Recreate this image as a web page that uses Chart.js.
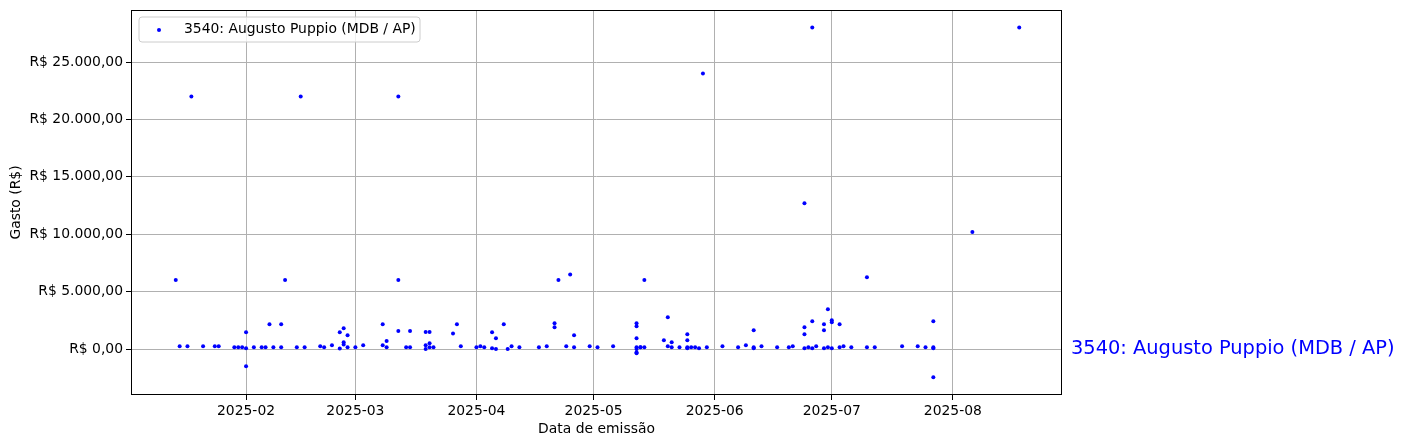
<!DOCTYPE html>
<html>
<head>
<meta charset="utf-8">
<script src="https://cdn.jsdelivr.net/npm/chart.js@4"></script>
<style>
	body { margin: 0; background: #ffffff; }
	#wrap { width: 1405px; height: 448px; position: relative; }
</style>
</head>
<body>
<div id="wrap"><canvas id="gastosChart"></canvas></div>
<script>
// Series label
const seriesName = '3540: Augusto Puppio (MDB / AP)';

// Emission dates and amounts
const emissionDates = [
	'2025-01-14', '2025-01-15', '2025-01-17', '2025-01-18', '2025-01-21', '2025-01-24', '2025-01-25',
	'2025-01-29', '2025-01-30', '2025-01-31',
	'2025-02-01', '2025-02-01', '2025-02-01', '2025-02-03', '2025-02-05', '2025-02-06', '2025-02-07',
	'2025-02-08', '2025-02-10', '2025-02-10', '2025-02-11', '2025-02-14', '2025-02-15', '2025-02-16',
	'2025-02-20', '2025-02-21', '2025-02-23', '2025-02-25', '2025-02-25', '2025-02-26', '2025-02-26',
	'2025-02-26', '2025-02-27', '2025-02-27', '2025-03-01',
	'2025-03-03', '2025-03-08', '2025-03-08', '2025-03-09', '2025-03-09', '2025-03-12', '2025-03-12',
	'2025-03-12', '2025-03-14', '2025-03-15', '2025-03-15', '2025-03-19', '2025-03-19', '2025-03-19',
	'2025-03-20', '2025-03-20', '2025-03-20', '2025-03-21', '2025-03-26', '2025-03-27', '2025-03-28',
	'2025-04-01', '2025-04-02', '2025-04-03', '2025-04-05', '2025-04-05', '2025-04-06', '2025-04-06',
	'2025-04-08', '2025-04-09', '2025-04-10', '2025-04-12', '2025-04-17', '2025-04-19', '2025-04-21',
	'2025-04-21', '2025-04-22', '2025-04-24', '2025-04-25', '2025-04-26', '2025-04-26', '2025-04-30',
	'2025-05-02', '2025-05-06', '2025-05-12', '2025-05-12', '2025-05-12', '2025-05-12', '2025-05-12',
	'2025-05-12', '2025-05-12', '2025-05-13', '2025-05-13', '2025-05-14', '2025-05-14', '2025-05-19',
	'2025-05-20', '2025-05-20', '2025-05-21', '2025-05-21', '2025-05-23', '2025-05-25', '2025-05-25',
	'2025-05-25', '2025-05-25', '2025-05-26', '2025-05-27', '2025-05-28', '2025-05-29', '2025-05-30',
	'2025-06-03', '2025-06-07', '2025-06-09', '2025-06-11', '2025-06-11', '2025-06-11', '2025-06-13',
	'2025-06-17', '2025-06-20', '2025-06-21', '2025-06-24', '2025-06-24', '2025-06-24', '2025-06-24',
	'2025-06-25', '2025-06-26', '2025-06-26', '2025-06-26', '2025-06-27', '2025-06-29', '2025-06-29',
	'2025-06-29', '2025-06-30', '2025-06-30',
	'2025-07-01', '2025-07-01', '2025-07-01', '2025-07-03', '2025-07-03', '2025-07-04', '2025-07-06',
	'2025-07-10', '2025-07-10', '2025-07-12', '2025-07-19', '2025-07-23', '2025-07-25', '2025-07-27',
	'2025-07-27', '2025-07-27', '2025-07-27',
	'2025-08-06', '2025-08-18'
];
const amounts = [
	6000, 240, 240, 22000, 240, 240, 240,
	150, 150, 150,
	1450, 60, -1500, 150, 150, 150, 2150,
	150, 2150, 150, 6000, 150, 22000, 150,
	240, 150, 320, 1450, 50, 1800, 580,
	400, 1200, 150, 150,
	320, 2150, 320, 700, 150, 1570, 6000,
	22000, 150, 1570, 150, 320, 1480, 0,
	1480, 500, 150, 150, 1360, 2150, 240,
	150, 240, 150, 60, 1450, 930, 0,
	2150, 0, 240, 150, 150, 240, 2240,
	1890, 6000, 240, 6500, 1200, 150, 240,
	150, 240, 2240, 1980, 930, 150, 0,
	-290, -370, 150, 150, 6000, 150, 760,
	240, 2760, 150, 580, 150, 150, 1280,
	760, 60, 150, 150, 60, 24000, 150,
	240, 150, 320, 150, 1630, 60, 240,
	150, 150, 240, 12700, 1890, 1280, 60,
	150, 28000, 2410, 60, 240, 2150, 1630,
	60, 3460, 150,
	60, 2500, 2320, 150, 2150, 240, 150,
	6240, 150, 150, 240, 240, 150, 2410,
	60, 150, -2470,
	10190, 28000
];

// Axis ticks
const xTickLabels = ['2025-02', '2025-03', '2025-04', '2025-05', '2025-06', '2025-07', '2025-08'];
const yTickValues = [0, 5000, 10000, 15000, 20000, 25000];

const DAY = 86400000;
function toMs(str) {
	const p = str.split('-').map(Number);
	return Date.UTC(p[0], p[1] - 1, p[2] || 1);
}

// "R$ 25.000,00"
function formatBRL(v) {
	const parts = Math.abs(v).toFixed(2).split('.');
	const intPart = parts[0].replace(/\B(?=(\d{3})+(?!\d))/g, '.');
	return 'R$ ' + (v < 0 ? '-' : '') + intPart + ',' + parts[1];
}

const FONT = 'DejaVu Sans';
const FONT_SIZE = 13.9;

// Frame, inner legend and the label on the right
const extrasPlugin = {
	id: 'extras',
	afterDraw(chart) {
		const { ctx, chartArea: a } = chart;
		ctx.save();
		ctx.strokeStyle = '#000000';
		ctx.lineWidth = 1;
		ctx.strokeRect(a.left + 0.5, a.top + 0.5, a.right - a.left - 1, a.bottom - a.top - 1);

		// legend box
		const lx = a.left + 8, ly = a.top + 7, lw = 281, lh = 25, r = 3;
		ctx.beginPath();
		ctx.moveTo(lx + r, ly);
		ctx.arcTo(lx + lw, ly, lx + lw, ly + lh, r);
		ctx.arcTo(lx + lw, ly + lh, lx, ly + lh, r);
		ctx.arcTo(lx, ly + lh, lx, ly, r);
		ctx.arcTo(lx, ly, lx + lw, ly, r);
		ctx.closePath();
		ctx.fillStyle = 'rgba(255,255,255,0.8)';
		ctx.fill();
		ctx.strokeStyle = '#cccccc';
		ctx.stroke();
		ctx.fillStyle = '#0000ff';
		ctx.beginPath();
		ctx.arc(lx + 20, ly + 13, 2, 0, Math.PI * 2);
		ctx.fill();
		ctx.fillStyle = '#000000';
		ctx.font = FONT_SIZE + 'px "' + FONT + '"';
		ctx.textBaseline = 'middle';
		ctx.textAlign = 'left';
		ctx.fillText(seriesName, lx + 45, ly + 12.5);

		// series name at y = 0, right of the axes
		const y0 = chart.scales.y.getPixelForValue(0);
		ctx.fillStyle = '#0000ff';
		ctx.font = '19.4px "' + FONT + '"';
		ctx.fillText(seriesName, a.right + 9, y0);
		ctx.restore();
	}
};

const points = emissionDates.map((d, i) => ({ x: toMs(d), y: amounts[i] }));

const ctx = document.getElementById('gastosChart').getContext('2d');
const chart = new Chart(ctx, {
	type: 'scatter',
	data: {
		datasets: [{
			label: seriesName,
			data: points,
			backgroundColor: '#0000ff',
			borderColor: '#0000ff',
			borderWidth: 0,
			pointRadius: 2,
			pointHoverRadius: 2
		}]
	},
	options: {
		responsive: true,
		maintainAspectRatio: false,
		animation: false,
		layout: {
			padding: { left: 0, right: 343, top: 10, bottom: 0 }
		},
		plugins: {
			legend: { display: false },
			tooltip: { enabled: false }
		},
		scales: {
			x: {
				type: 'linear',
				min: toMs('2025-01-01') + 1.54 * DAY,
				max: toMs('2025-08-01') + 27.95 * DAY,
				afterFit(scale) {
					scale.height = 53;
					scale.paddingLeft = 0;
					scale.paddingRight = 0;
				},
				afterBuildTicks(scale) {
					scale.ticks = xTickLabels.map(l => ({ value: toMs(l) }));
				},
				ticks: {
					color: '#000000',
					font: { family: FONT, size: FONT_SIZE },
					padding: 3,
					maxRotation: 0,
					autoSkip: false,
					callback: function(value) {
						const i = xTickLabels.findIndex(l => toMs(l) === value);
						return i >= 0 ? xTickLabels[i] : '';
					}
				},
				grid: {
					color: '#b0b0b0',
					lineWidth: 1,
					tickColor: '#000000',
					tickLength: 5
				},
				border: { display: false },
				title: {
					display: true,
					text: 'Data de emissão',
					color: '#000000',
					font: { family: FONT, size: FONT_SIZE },
					padding: { top: 0, bottom: 10 }
				}
			},
			y: {
				type: 'linear',
				min: -4007,
				max: 29530,
				afterFit(scale) {
					scale.width = 131;
					scale.paddingTop = 0;
					scale.paddingBottom = 0;
				},
				afterBuildTicks(scale) {
					scale.ticks = yTickValues.map(v => ({ value: v }));
				},
				ticks: {
					color: '#000000',
					font: { family: FONT, size: FONT_SIZE },
					padding: 3,
					callback: function(value) { return formatBRL(value); }
				},
				grid: {
					color: '#b0b0b0',
					lineWidth: 1,
					tickColor: '#000000',
					tickLength: 5
				},
				border: { display: false },
				title: {
					display: true,
					text: 'Gasto (R$)',
					color: '#000000',
					font: { family: FONT, size: FONT_SIZE },
					padding: { top: 8, bottom: 0 }
				}
			}
		}
	},
	plugins: [extrasPlugin]
});
</script>
</body>
</html>
